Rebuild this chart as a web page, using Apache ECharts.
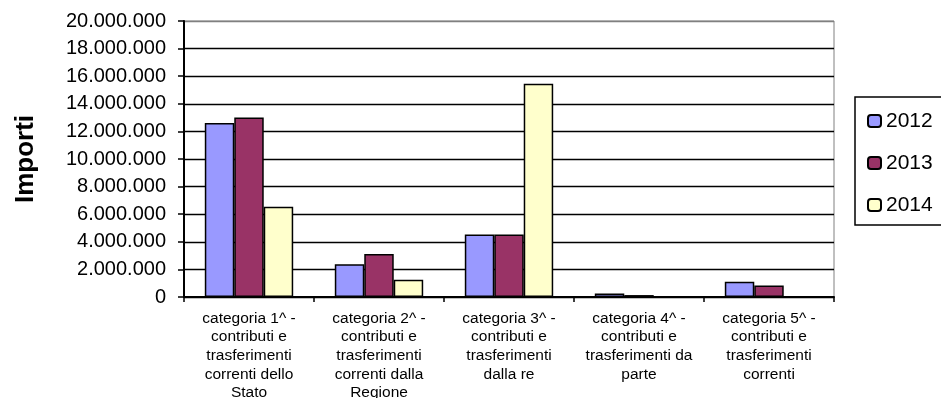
<!DOCTYPE html>
<html>
<head>
<meta charset="utf-8">
<script src="https://cdn.jsdelivr.net/npm/echarts@6/dist/echarts.min.js"></script>
<style>
  html, body { margin: 0; padding: 0; background: #fff; }
  #chart { width: 941px; height: 398px; }
</style>
</head>
<body>
<div id="chart"></div>
<script>
// Revenue categories (labels wrapped onto several lines)
const categories = [
  'categoria 1^ -\ncontributi e\ntrasferimenti\ncorrenti dello\nStato',
  'categoria 2^ -\ncontributi e\ntrasferimenti\ncorrenti dalla\nRegione',
  'categoria 3^ -\ncontributi e\ntrasferimenti\ndalla re',
  'categoria 4^ -\ncontributi e\ntrasferimenti da\nparte',
  'categoria 5^ -\ncontributi e\ntrasferimenti\ncorrenti'
];

// Amounts per year
const years = ['2012', '2013', '2014'];
const values2012 = [12600000, 2380000, 4530000, 250000, 1100000];
const values2013 = [13000000, 3110000, 4530000, 140000, 830000];
const values2014 = [6540000, 1250000, 15450000, 0, 0];

const yMin = 0;
const yMax = 20000000;
const yStep = 2000000;

const colors = ['#9999FF', '#993366', '#FFFFCC'];
const font = "'Liberation Sans', Arial, sans-serif";

// Thousands separated by dots, as in Italian formatting
function formatIt(v) {
  return String(Math.round(v)).replace(/\B(?=(\d{3})+(?!\d))/g, '.');
}

const seriesData = [values2012, values2013, values2014];

const chart = echarts.init(document.getElementById('chart'), null, { renderer: 'canvas' });

chart.setOption({
  animation: false,
  backgroundColor: '#ffffff',
  textStyle: { fontFamily: font },
  grid: {
    left: 184, top: 21, width: 650, height: 276,
    outerBoundsMode: 'none',
    containLabel: false,
    show: true, borderColor: '#808080', borderWidth: 1, backgroundColor: 'transparent'
  },
  legend: {
    orient: 'vertical',
    left: 855, top: 97,
    data: years,
    itemWidth: 13, itemHeight: 12,
    itemGap: 20,
    padding: [13, 20, 9, 12],
    borderColor: '#000', borderWidth: 1.5,
    textStyle: { fontSize: 21, color: '#000', fontFamily: font, lineHeight: 22 }
  },
  xAxis: {
    type: 'category',
    data: categories,
    axisLine: { lineStyle: { color: '#000', width: 2 } },
    axisTick: { show: true, length: 5, lineStyle: { color: '#000', width: 1.5 } },
    axisLabel: {
      interval: 0, margin: 12, color: '#000', fontSize: 15.5, lineHeight: 18.7,
      fontFamily: font, align: 'center'
    }
  },
  yAxis: {
    type: 'value',
    min: yMin, max: yMax, interval: yStep,
    name: 'Importi',
    nameLocation: 'middle',
    nameRotate: 90,
    nameGap: 145,
    nameTextStyle: { fontSize: 26, fontWeight: 'bold', color: '#000', fontFamily: font },
    axisLine: { show: true, lineStyle: { color: '#000', width: 2 } },
    axisTick: { show: true, length: 6, lineStyle: { color: '#000', width: 1.5 } },
    axisLabel: {
      margin: 18, color: '#000', fontSize: 20, fontFamily: font,
      formatter: formatIt
    },
    splitLine: {
      show: true,
      lineStyle: {
        color: ['#000', '#000', '#000', '#000', '#000', '#000', '#000', '#000', '#000', '#000', '#808080'],
        width: 1.3
      }
    }
  },
  series: years.map((y, i) => ({
    name: y,
    type: 'bar',
    data: seriesData[i],
    barGap: '0%',
    barCategoryGap: '32%',
    itemStyle: { color: colors[i], borderColor: '#000', borderWidth: 1.5 }
  }))
});
</script>
</body>
</html>
